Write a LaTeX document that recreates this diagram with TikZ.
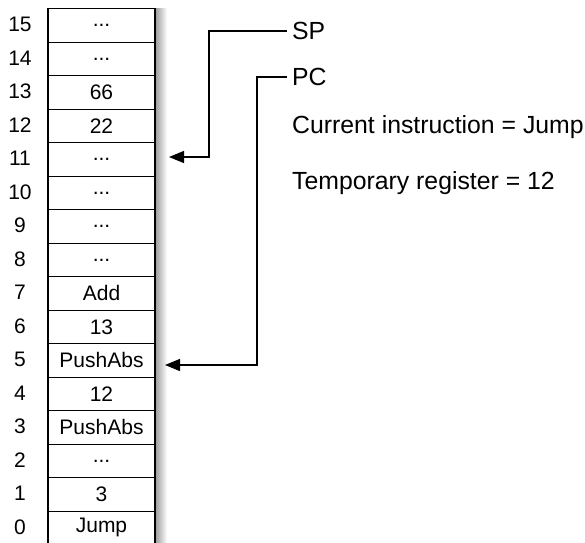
\documentclass[tikz,border=0pt]{standalone}
\usepackage{fontspec}
\setmainfont{Liberation Sans}
\usetikzlibrary{arrows.meta,calc}
\begin{document}
\begin{tikzpicture}[x=1pt,y=-1pt,
  cell/.style={draw, line width=1.3pt, minimum width=107pt, minimum height=33.5pt, inner sep=0pt, font=\fontsize{21}{25}\selectfont, anchor=north},
  idx/.style={font=\fontsize{21}{25}\selectfont},
  lbl/.style={anchor=west, inner sep=0pt, font=\fontsize{24.8}{29}\selectfont},
  ptr/.style={line width=1.4pt, -{Triangle[length=15pt,width=12pt]}}
]
\useasboundingbox (0,0) rectangle (585,542);
\shade[left color=black!40, right color=white] (155,8) rectangle (167,545);
\node[cell] (c15) at (101.5, 8.0) {...};
\node[cell] (c14) at (101.5, 41.5) {...};
\node[cell] (c13) at (101.5, 75.0) {66};
\node[cell] (c12) at (101.5, 108.5) {22};
\node[cell] (c11) at (101.5, 142.0) {...};
\node[cell] (c10) at (101.5, 175.5) {...};
\node[cell] (c9) at (101.5, 209.0) {...};
\node[cell] (c8) at (101.5, 242.5) {...};
\node[cell] (c7) at (101.5, 276.0) {Add};
\node[cell] (c6) at (101.5, 309.5) {13};
\node[cell] (c5) at (101.5, 343.0) {PushAbs};
\node[cell] (c4) at (101.5, 376.5) {12};
\node[cell] (c3) at (101.5, 410.0) {PushAbs};
\node[cell] (c2) at (101.5, 443.5) {...};
\node[cell] (c1) at (101.5, 477.0) {3};
\node[cell] (c0) at (101.5, 510.5) {Jump};
\foreach \i in {0,...,15} {
  \node[idx] (n\i) at (20, {8+(15-\i)*33.5+16.75}) {\i};
}
\node[lbl] (SP) at (292,31) {SP};
\node[lbl] (PC) at (292,77) {PC};
\node[lbl] (CI) at (292,127) {Current instruction = Jump};
\node[lbl] (TR) at (292,183) {Temporary register = 12};
\coordinate (sptip) at (169,157);
\coordinate (pctip) at (165,365);
\draw[ptr] ([xshift=-5pt]SP.west) -| ([xshift=40pt]sptip) -- (sptip);
\draw[ptr] ([xshift=-5pt]PC.west) -| ([xshift=92pt]pctip) -- (pctip);
\end{tikzpicture}
\end{document}
